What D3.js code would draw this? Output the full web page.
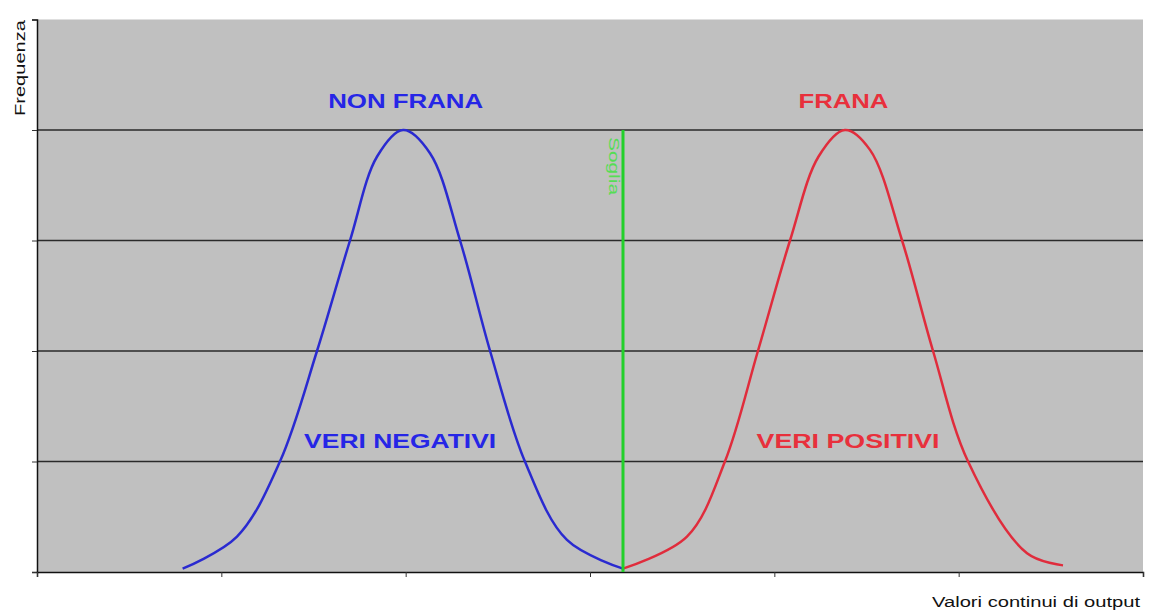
<!DOCTYPE html>
<html>
<head>
<meta charset="utf-8">
<script src="https://cdn.jsdelivr.net/npm/d3@7"></script>
<style>
  html, body { margin: 0; padding: 0; background: #ffffff; }
  svg { display: block; }
</style>
</head>
<body>
<svg id="chart" width="1149" height="614"></svg>
<script>
// ---- data ----
const xTicks = [0, 1, 2, 3, 4, 5, 6];
const yTicks = [0, 1, 2, 3, 4, 5];
const gridValues = [1, 2, 3, 4];

const nonFranaX = [0.79, 1.085, 1.318, 1.519, 1.698, 1.845, 1.986, 2.132, 2.295, 2.458, 2.647, 2.875, 3.179];
const nonFranaY = [0.03, 0.32, 1.0, 2.0, 3.0, 3.76, 4.0, 3.79, 3.0, 2.0, 1.0, 0.29, 0.03];

const franaX = [3.179, 3.526, 3.732, 3.911, 4.085, 4.24, 4.383, 4.519, 4.693, 4.861, 5.051, 5.371, 5.566];
const franaY = [0.03, 0.32, 1.0, 2.0, 3.0, 3.76, 4.0, 3.82, 3.0, 2.0, 1.0, 0.17, 0.06];

const soglia = 3.179;
const sogliaTop = 4;

const labels = [
  { text: "NON FRANA", x: 2.0, y: 4.2, color: "#2626e6", len: 155 },
  { text: "FRANA", x: 4.375, y: 4.2, color: "#e8303c", len: 90 },
  { text: "VERI NEGATIVI", x: 1.97, y: 1.12, color: "#2626e6", len: 192 },
  { text: "VERI POSITIVI", x: 4.40, y: 1.12, color: "#e8303c", len: 183 }
];

// ---- layout ----
const svg = d3.select("#chart");
const mLeft = 37, mRight = 1143, mTop = 19.5, mBottom = 572;

const x = d3.scaleLinear().domain([0, 6]).range([mLeft, mRight]);
const y = d3.scaleLinear().domain([0, 5]).range([mBottom, mTop]);

// plot background
svg.append("rect")
  .attr("x", mLeft).attr("y", mTop)
  .attr("width", mRight - mLeft).attr("height", mBottom - mTop)
  .attr("fill", "#c0c0c0");

// gridlines
svg.append("g").selectAll("line").data(gridValues).join("line")
  .attr("x1", mLeft).attr("x2", mRight)
  .attr("y1", d => y(d)).attr("y2", d => y(d))
  .attr("stroke", "#2a2a2a").attr("stroke-width", 1.6);

// axes
const yAxis = d3.axisLeft(y).tickValues(yTicks).tickSize(5).tickFormat("");
const gy = svg.append("g").attr("transform", `translate(${mLeft},0)`).call(yAxis);
gy.select(".domain").attr("stroke", "#111").attr("stroke-width", 1.5);
gy.selectAll(".tick line").attr("stroke", "#333").attr("stroke-width", 1);

const xAxis = d3.axisBottom(x).tickValues(xTicks).tickSize(5).tickFormat("");
const gx = svg.append("g").attr("transform", `translate(0,${mBottom})`).call(xAxis);
gx.select(".domain").attr("stroke", "#111").attr("stroke-width", 1.5);
gx.selectAll(".tick line").attr("stroke", "#333").attr("stroke-width", 1);

// curves
const line = d3.line().x(d => x(d[0])).y(d => y(d[1])).curve(d3.curveCatmullRom.alpha(0.5));

svg.append("path")
  .datum(d3.zip(nonFranaX, nonFranaY))
  .attr("d", line)
  .attr("fill", "none").attr("stroke", "#2a2ad0").attr("stroke-width", 2.5);

svg.append("path")
  .datum(d3.zip(franaX, franaY))
  .attr("d", line)
  .attr("fill", "none").attr("stroke", "#e02c3c").attr("stroke-width", 2.5);

// threshold
svg.append("line")
  .attr("x1", x(soglia)).attr("x2", x(soglia))
  .attr("y1", y(0)).attr("y2", y(sogliaTop))
  .attr("stroke", "#22d02a").attr("stroke-width", 3);

svg.append("text")
  .attr("transform", `translate(${x(soglia) - 14},${y(sogliaTop) + 36}) rotate(90)`)
  .attr("text-anchor", "middle")
  .attr("font-family", "Liberation Sans, Arial, sans-serif")
  .attr("font-size", 15)
  .attr("fill", "#55dd55")
  .attr("textLength", 58)
  .attr("lengthAdjust", "spacingAndGlyphs")
  .text("Soglia");

// labels
svg.append("g").selectAll("text").data(labels).join("text")
  .attr("x", d => x(d.x)).attr("y", d => y(d.y))
  .attr("text-anchor", "middle")
  .attr("font-family", "Liberation Sans, Arial, sans-serif")
  .attr("font-weight", "bold")
  .attr("font-size", 21)
  .attr("fill", d => d.color)
  .attr("textLength", d => d.len)
  .attr("lengthAdjust", "spacingAndGlyphs")
  .text(d => d.text);

// axis titles
svg.append("text")
  .attr("transform", `translate(25,68) rotate(-90)`)
  .attr("text-anchor", "middle")
  .attr("font-family", "Liberation Sans, Arial, sans-serif")
  .attr("font-size", 14)
  .attr("fill", "#111")
  .attr("textLength", 96)
  .attr("lengthAdjust", "spacingAndGlyphs")
  .text("Frequenza");

svg.append("text")
  .attr("x", 1140).attr("y", 607)
  .attr("text-anchor", "end")
  .attr("font-family", "Liberation Sans, Arial, sans-serif")
  .attr("font-size", 14)
  .attr("fill", "#111")
  .attr("textLength", 208)
  .attr("lengthAdjust", "spacingAndGlyphs")
  .text("Valori continui di output");
</script>
</body>
</html>
